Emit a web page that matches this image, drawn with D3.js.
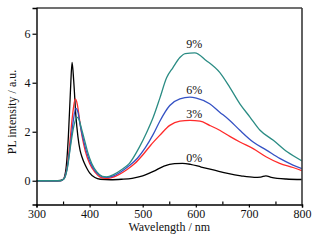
<!DOCTYPE html>
<html><head><meta charset="utf-8">
<script src="https://cdn.jsdelivr.net/npm/d3@7"></script>
<style>html,body{margin:0;padding:0;background:#fff;}svg{display:block;}</style>
</head><body>
<script>
const xTicks = [300,400,500,600,700,800];
const yTicks = [0,2,4,6];
const seriesNames = ["0%","3%","6%","9%"];
const colors = ["#000000","#ff2a2a","#3552c4","#2b8c84"];

const wl0 = [300,340,350,355,360,364,367,370,374,378,382,386,390,395,400,410,420,440,460,480,500,520,540,560,575,590,610,635,660,685,710,722,732,742,770,800];
const v0  = [0,0,0.05,0.4,1.8,3.7,4.83,4.1,2.7,1.8,1.25,0.95,0.72,0.5,0.32,0.13,0.06,0.04,0.06,0.1,0.2,0.38,0.6,0.7,0.71,0.67,0.56,0.43,0.3,0.2,0.14,0.15,0.2,0.14,0.07,0.05];

const wl3 = [300,345,352,358,363,368,373,377,381,386,392,400,410,420,430,440,455,470,485,500,515,532,551,570,589,608,626,645,664,683,708,733,758,783,800];
const v3  = [0,0,0.1,0.6,1.6,2.7,3.34,3.1,2.5,1.8,1.2,0.7,0.35,0.15,0.1,0.12,0.25,0.45,0.7,1.05,1.45,1.85,2.26,2.43,2.46,2.43,2.26,2.06,1.81,1.58,1.31,0.97,0.71,0.54,0.41];

const wl6 = [300,345,352,358,364,369,374,378,382,388,394,402,412,422,432,445,460,475,490,505,520,532,551,570,589,601,626,645,664,683,708,733,758,783,800];
const v6  = [0,0,0.1,0.55,1.5,2.4,2.95,2.8,2.3,1.7,1.2,0.7,0.35,0.18,0.14,0.2,0.38,0.62,0.92,1.35,1.9,2.42,3.07,3.34,3.41,3.37,3.14,2.8,2.46,2.06,1.58,1.25,0.91,0.64,0.49];

const wl9 = [300,345,352,358,364,370,376,380,385,390,396,404,414,424,432,445,460,475,494,507,520,532,545,557,570,580,598,620,645,664,683,702,721,746,772,800];
const v9  = [0,0,0.08,0.5,1.4,2.2,2.6,2.5,2.1,1.7,1.2,0.7,0.35,0.18,0.16,0.25,0.45,0.71,1.38,1.95,2.6,3.35,4.2,4.62,5.03,5.19,5.22,4.9,4.42,3.81,3.14,2.6,2.06,1.65,1.18,0.81];

const wls = [wl0, wl3, wl6, wl9];
const vals = [v0, v3, v6, v9];

const W = 320, H = 244;
const L = 36.5, R = 302, T = 8, B = 204.5;
const svg = d3.select("body").append("svg").attr("width", W).attr("height", H);
svg.append("rect").attr("width", W).attr("height", H).attr("fill", "#fff");

const x = d3.scaleLinear().domain([300,800]).range([L,R]);
const y = d3.scaleLinear().domain([-0.97,7.05]).range([B,T]);
const font = "'Times New Roman','Liberation Serif',serif";
const fs = 12;

const line = d3.line().x(d=>x(d[0])).y(d=>y(d[1])).curve(d3.curveMonotoneX);
svg.append("clipPath").attr("id","c").append("rect").attr("x",L).attr("y",T).attr("width",R-L).attr("height",B-T);
const g = svg.append("g").attr("clip-path","url(#c)");
for (let i = 0; i < 4; i++) {
  const pts = wls[i].map((w,j)=>[w, vals[i][j]]);
  g.append("path").attr("d", line(pts)).attr("fill","none").attr("stroke", colors[i]).attr("stroke-width", 1.3);
}

const labelPos = [[597,0.78],[597,2.58],[597,3.55],[597,5.4]];
seriesNames.forEach((n,i)=>{
  svg.append("text").attr("x", x(labelPos[i][0])).attr("y", y(labelPos[i][1]))
    .attr("text-anchor","middle").attr("font-family",font).attr("font-size",fs).attr("fill","#111").text(n);
});

svg.append("line").attr("x1",L).attr("x2",R).attr("y1",T).attr("y2",T).attr("stroke","#707070").attr("stroke-width",2);
svg.append("line").attr("x1",R).attr("x2",R).attr("y1",T).attr("y2",B).attr("stroke","#3a3a3a").attr("stroke-width",1.6);

const xAxis = svg.append("g").attr("transform",`translate(0,${B})`)
  .call(d3.axisBottom(x).tickValues(xTicks).tickSize(3).tickPadding(2).tickFormat(d3.format("d")));
xAxis.select(".domain").attr("stroke","#000").attr("stroke-width",1.4);
xAxis.selectAll("text").attr("font-family",font).attr("font-size",fs).attr("fill","#111");
xAxis.selectAll(".tick line").attr("stroke","#000").attr("stroke-width",1.2);
const xMinor = svg.append("g").attr("transform",`translate(0,${B})`)
  .call(d3.axisTop(x).tickValues([350,450,550,650,750]).tickSize(3).tickFormat(""));
xMinor.select(".domain").remove();
xMinor.selectAll(".tick line").attr("stroke","#000").attr("stroke-width",1.2);

const yAxis = svg.append("g").attr("transform",`translate(${L},0)`)
  .call(d3.axisLeft(y).tickValues(yTicks).tickSize(4).tickPadding(2).tickFormat(d3.format("d")));
yAxis.select(".domain").attr("stroke","#000").attr("stroke-width",1.4);
yAxis.selectAll("text").attr("font-family",font).attr("font-size",fs).attr("fill","#111");
yAxis.selectAll(".tick line").attr("stroke","#000").attr("stroke-width",1.2);

svg.append("text").attr("x",(L+R)/2).attr("y",231).attr("text-anchor","middle")
  .attr("font-family",font).attr("font-size",fs).attr("fill","#111").text("Wavelength / nm");
svg.append("text").attr("transform","translate(16,112) rotate(-90)").attr("text-anchor","middle")
  .attr("font-family",font).attr("font-size",fs).attr("fill","#111").text("PL intensity / a.u.");
</script>
</body></html>
